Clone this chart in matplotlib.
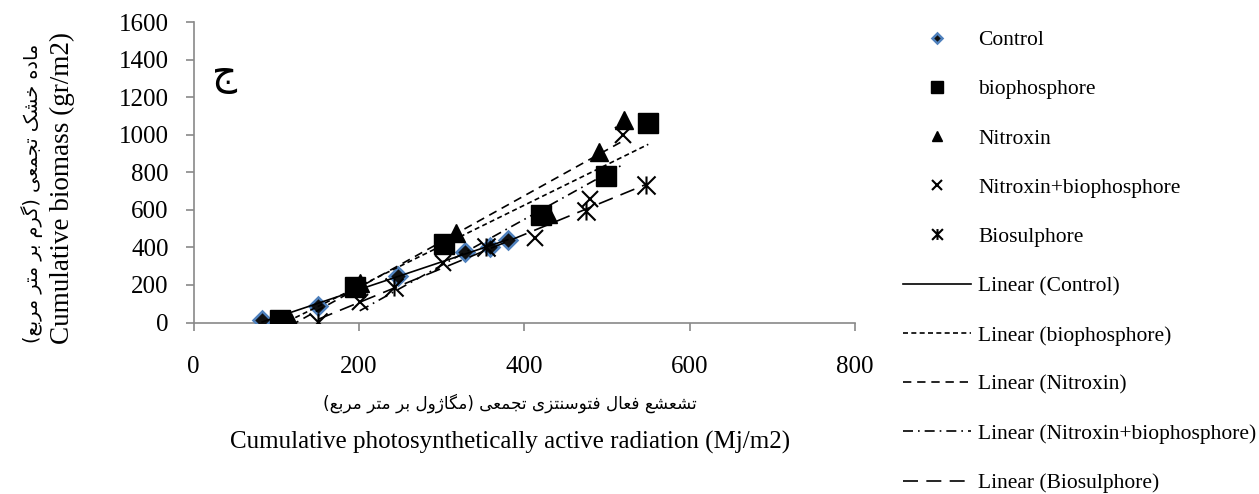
import numpy as np
import matplotlib
matplotlib.use('Agg')
import matplotlib.pyplot as plt
from matplotlib.path import Path
from matplotlib.lines import Line2D

plt.rcParams['font.family'] = ['Liberation Serif', 'DejaVu Sans']

# ---------------- data ----------------
control_x = [83, 151, 247, 328, 358, 380]
control_y = [11, 90, 245, 374, 402, 441]
bio_x = [105, 195, 303, 420, 499, 550]
bio_y = [11, 190, 420, 574, 782, 1061]
nit_x = [118, 201, 317, 429, 490, 521]
nit_y = [3, 208, 478, 580, 908, 1079]
nb_x = [201, 302, 413, 479, 520]
nb_y = [110, 318, 452, 660, 997]
bs_x = [151, 242, 354, 475, 547]
bs_y = [5, 190, 402, 595, 732]

series_names = ['Control', 'biophosphore', 'Nitroxin', 'Nitroxin+biophosphore', 'Biosulphore']
x_ticks = [0, 200, 400, 600, 800]
y_ticks = [0, 200, 400, 600, 800, 1000, 1200, 1400, 1600]

xlabel_en = 'Cumulative photosynthetically active radiation (Mj/m2)'
xlabel_fa = 'تشعشع فعال فتوسنتزی تجمعی (مگاژول بر متر مربع)'
ylabel_en = 'Cumulative biomass (gr/m2)'
ylabel_fa = 'ماده خشک تجمعی (گرم بر متر مربع)'
panel_letter = 'ج'

# ------------- minimal Arabic/Persian shaping -------------
FORMS = {
    'ا': (0xFE8D, 0xFE8E, None, None),
    'ب': (0xFE8F, 0xFE90, 0xFE91, 0xFE92),
    'ت': (0xFE95, 0xFE96, 0xFE97, 0xFE98),
    'ج': (0xFE9D, 0xFE9E, 0xFE9F, 0xFEA0),
    'خ': (0xFEA5, 0xFEA6, 0xFEA7, 0xFEA8),
    'د': (0xFEA9, 0xFEAA, None, None),
    'ر': (0xFEAD, 0xFEAE, None, None),
    'ز': (0xFEAF, 0xFEB0, None, None),
    'ژ': (0xFB8A, 0xFB8B, None, None),
    'س': (0xFEB1, 0xFEB2, 0xFEB3, 0xFEB4),
    'ش': (0xFEB5, 0xFEB6, 0xFEB7, 0xFEB8),
    'ع': (0xFEC9, 0xFECA, 0xFECB, 0xFECC),
    'ف': (0xFED1, 0xFED2, 0xFED3, 0xFED4),
    'ک': (0xFB8E, 0xFB8F, 0xFB90, 0xFB91),
    'گ': (0xFB92, 0xFB93, 0xFB94, 0xFB95),
    'ل': (0xFEDD, 0xFEDE, 0xFEDF, 0xFEE0),
    'م': (0xFEE1, 0xFEE2, 0xFEE3, 0xFEE4),
    'ن': (0xFEE5, 0xFEE6, 0xFEE7, 0xFEE8),
    'ه': (0xFEE9, 0xFEEA, 0xFEEB, 0xFEEC),
    'و': (0xFEED, 0xFEEE, None, None),
    'ی': (0xFBFC, 0xFBFD, 0xFBFE, 0xFBFF),
}


def shape(s):
    out = []
    n = len(s)
    for i, c in enumerate(s):
        if c not in FORMS:
            out.append(c)
            continue
        f = FORMS[c]
        prev = s[i - 1] if i > 0 else None
        nxt = s[i + 1] if i < n - 1 else None
        pj = prev in FORMS and FORMS[prev][2] is not None
        nj = f[2] is not None and nxt in FORMS
        if pj and nj:
            g = f[3]
        elif pj:
            g = f[1]
        elif nj:
            g = f[2]
        else:
            g = f[0]
        out.append(chr(g))
    vis = ''.join(out)[::-1]
    return vis.translate(str.maketrans('()', ')('))


# ---------------- figure ----------------
W, H = 1259, 494
fig = plt.figure(figsize=(W / 100, H / 100), dpi=100)
ax_l, ax_r, ax_t, ax_b = 193.5, 855, 22, 322.5
ax = fig.add_axes([ax_l / W, 1 - ax_b / H, (ax_r - ax_l) / W, (ax_b - ax_t) / H])

gray = '#898989'
star = Path([(-1, -1), (1, 1), (-1, 1), (1, -1), (0, -1), (0, 1)],
            [Path.MOVETO, Path.LINETO, Path.MOVETO, Path.LINETO, Path.MOVETO, Path.LINETO])

xs = [control_x, bio_x, nit_x, nb_x, bs_x]
ys = [control_y, bio_y, nit_y, nb_y, bs_y]
mk = [dict(marker='D', ms=9, mfc='#101010', mec='#4F81BD', mew=1.8),
      dict(marker='s', ms=14, mfc='black', mec='black'),
      dict(marker='^', ms=13, mfc='black', mec='black'),
      dict(marker='x', ms=11, mec='black', mew=1.5),
      dict(marker=star, ms=13, mec='black', mew=1.5)]
styles = ['-', (0, (3, 2)), (0, (5, 3.5)), (0, (6, 3, 1, 3)), (0, (9, 5))]

handles_m, handles_l = [], []
for x, y, m in zip(xs, ys, mk):
    h, = ax.plot(x, y, ls='none', zorder=3, **m)
    handles_m.append(h)
for x, y, ls in zip(xs, ys, styles):
    k, b = np.polyfit(x, y, 1)
    xf = np.array([min(x), max(x)])
    h, = ax.plot(xf, k * xf + b, color='black', lw=1.2, ls=ls, zorder=4)
    handles_l.append(h)

ax.set_xlim(0, 800)
ax.set_ylim(0, 1600)
ax.set_xticks(x_ticks)
ax.set_yticks(y_ticks)
for s in ['top', 'right']:
    ax.spines[s].set_visible(False)
for s in ['left', 'bottom']:
    ax.spines[s].set_color(gray)
    ax.spines[s].set_linewidth(1.2)
ax.tick_params(axis='both', direction='out', length=6, width=1.2, color=gray, labelsize=18)
ax.tick_params(axis='y', pad=12)
ax.tick_params(axis='x', pad=18)

# panel letter
ax.text(38, 1320, panel_letter, fontsize=28, ha='center', va='center', family='DejaVu Sans')

# axis labels
t_xfa = fig.text(510 / W, 1 - 403 / H, shape(xlabel_fa), ha='center', va='center', fontsize=14, family='DejaVu Sans')
t_xen = fig.text(510 / W, 1 - 442 / H, xlabel_en, ha='center', va='center', fontsize=18)
t_yfa = fig.text(32 / W, 1 - 193 / H, shape(ylabel_fa), ha='center', va='center', rotation=90, fontsize=14, family='DejaVu Sans')
t_yen = fig.text(62 / W, 1 - 188 / H, ylabel_en, ha='center', va='center', rotation=90, fontsize=19.5)

# fit Persian label lengths to the reference
fig.canvas.draw()
r = fig.canvas.get_renderer()
bb = t_xfa.get_window_extent(r)
t_xfa.set_fontsize(14 * 375 / bb.width)
bb = t_yfa.get_window_extent(r)
t_yfa.set_fontsize(14 * 300 / bb.height)

# legend
fs = 15.5
fpx = fs * 100 / 72
leg = fig.legend(handles_m + handles_l,
                 series_names + ['Linear (%s)' % n for n in series_names],
                 loc='upper left', bbox_to_anchor=(903 / W, 1 - 30 / H),
                 frameon=False, fontsize=fs, handlelength=68 / fpx, handletextpad=7 / fpx,
                 labelspacing=1.355, borderpad=0, borderaxespad=0, markerscale=0.6)

fig.savefig('out.png', dpi=100)
